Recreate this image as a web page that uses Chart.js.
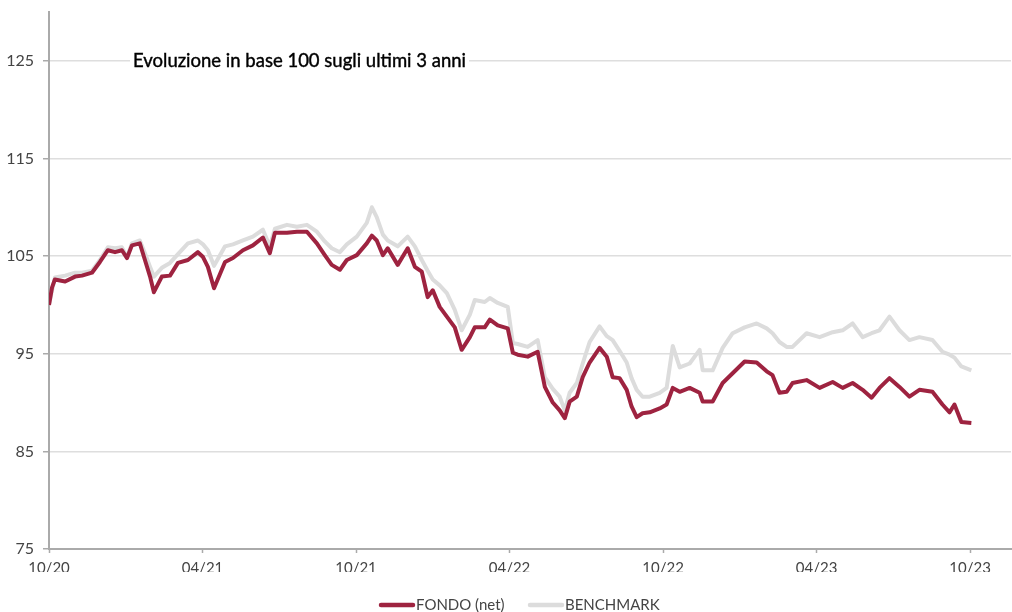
<!DOCTYPE html>
<html>
<head>
<meta charset="utf-8">
<script src="https://cdn.jsdelivr.net/npm/chart.js@4.4.0/dist/chart.umd.min.js"></script>
<style>
  html, body { margin: 0; padding: 0; background: #fff; }
  #wrap { width: 1012px; height: 612px; }
</style>
</head>
<body>
<div id="wrap"><canvas id="chart" width="1012" height="612"></canvas></div>
<script>
// months since 10/2020
var months = [0, 0.12, 0.23, 0.63, 1.02, 1.29, 1.68, 1.99, 2.30, 2.58, 2.85, 3.05, 3.24, 3.55, 3.75, 3.95, 4.10, 4.41, 4.73, 5.04,
  5.43, 5.82, 6.02, 6.21, 6.45, 6.88, 7.19, 7.58, 7.97, 8.36, 8.63, 8.83, 9.30, 9.69, 10.08, 10.47, 10.78, 11.05, 11.37, 11.64,
  12.03, 12.42, 12.62, 12.81, 13.05, 13.24, 13.63, 14.02, 14.30, 14.57, 14.80, 15.00, 15.27, 15.55, 15.86, 16.13, 16.45, 16.64, 17.03, 17.23,
  17.54, 17.93, 18.13, 18.32, 18.71, 19.10, 19.38, 19.69, 19.96, 20.16, 20.35, 20.63, 20.86, 21.13, 21.52, 21.80, 22.03, 22.30, 22.58, 22.77,
  22.97, 23.20, 23.48, 23.87, 24.14, 24.38, 24.65, 25.04, 25.43, 25.55, 25.94, 26.33, 26.72, 27.19, 27.66, 28.05, 28.28, 28.55, 28.83, 29.06,
  29.61, 30.12, 30.63, 31.02, 31.41, 31.80, 32.15, 32.46, 32.85, 33.24, 33.63, 34.02, 34.53, 34.92, 35.20, 35.39, 35.66, 36.05];

var fondo = [100.0, 101.8, 102.6, 102.4, 102.9, 103.0, 103.3, 104.4, 105.6, 105.4, 105.6, 104.8, 106.1, 106.3, 104.6, 102.9, 101.3, 102.9, 103.0, 104.3,
  104.6, 105.4, 104.9, 103.9, 101.7, 104.4, 104.8, 105.6, 106.1, 106.9, 105.3, 107.4, 107.4, 107.5, 107.5, 106.3, 105.1, 104.1, 103.6, 104.6,
  105.1, 106.3, 107.1, 106.6, 105.1, 105.8, 104.1, 105.8, 103.9, 103.4, 100.8, 101.5, 99.8, 98.8, 97.7, 95.4, 96.7, 97.7, 97.7, 98.5,
  97.9, 97.6, 95.1, 94.9, 94.7, 95.2, 91.6, 90.0, 89.2, 88.4, 90.1, 90.6, 92.6, 94.1, 95.6, 94.7, 92.6, 92.5, 91.3, 89.6,
  88.5, 88.9, 89.0, 89.4, 89.8, 91.5, 91.1, 91.5, 91.0, 90.1, 90.1, 92.0, 93.0, 94.2, 94.1, 93.2, 92.8, 91.0, 91.1, 92.0,
  92.3, 91.5, 92.1, 91.5, 92.0, 91.3, 90.5, 91.5, 92.5, 91.6, 90.6, 91.3, 91.1, 89.8, 89.0, 89.8, 88.0, 87.9];

var benchmark = [100.0, 101.5, 102.8, 103.0, 103.3, 103.3, 103.5, 104.6, 105.9, 105.8, 105.9, 104.9, 106.3, 106.6, 105.3, 103.9, 102.9, 103.8, 104.3, 105.2,
  106.3, 106.6, 106.2, 105.6, 104.0, 106.0, 106.2, 106.6, 107.0, 107.7, 106.0, 107.8, 108.2, 108.0, 108.2, 107.5, 106.5, 105.8, 105.4, 106.2,
  107.0, 108.4, 110.0, 109.0, 107.2, 106.6, 106.0, 107.0, 106.0, 104.6, 103.5, 102.6, 102.0, 101.2, 99.5, 97.4, 99.0, 100.5, 100.3, 100.7,
  100.2, 99.8, 96.1, 96.0, 95.7, 96.4, 92.6, 91.4, 90.6, 89.2, 91.0, 92.0, 94.0, 96.2, 97.8, 96.8, 96.4, 95.3, 94.1, 92.5,
  91.3, 90.6, 90.6, 91.0, 91.5, 95.8, 93.6, 94.0, 95.4, 93.3, 93.3, 95.6, 97.1, 97.7, 98.1, 97.6, 97.1, 96.2, 95.7, 95.7,
  97.1, 96.7, 97.2, 97.4, 98.1, 96.7, 97.1, 97.4, 98.8, 97.4, 96.4, 96.7, 96.4, 95.2, 94.9, 94.6, 93.7, 93.3];

var xTicks = [0, 6, 12, 18, 24, 30, 36];
var xLabels = ['10/20', '04/21', '10/21', '04/22', '10/22', '04/23', '10/23'];
var yTicks = [75, 85, 95, 105, 115, 125];

var seriesNames = ['FONDO (net)', 'BENCHMARK'];
var seriesColors = ['#9e2340', '#dcdcdc'];
var titleText = 'Evoluzione in base 100 sugli ultimi 3 anni';

function toPoints(vals)
{
  var out = [];
  for (var i = 0; i < vals.length; i++) {
    out.push({ x: months[i], y: vals[i] });
  }
  return out;
}

var titlePlugin = {
  id: 'titleBox',
  afterDatasetsDraw: function(chart) {
    var ctx = chart.ctx;
    ctx.save();
    ctx.font = '18.5px Lato';
    var w = ctx.measureText(titleText).width;
    var y = chart.scales.y.getPixelForValue(125);
    ctx.fillStyle = '#fff';
    ctx.fillRect(130, y - 11, w + 6, 22);
    ctx.fillStyle = '#000';
    ctx.strokeStyle = '#000';
    ctx.lineWidth = 0.4;
    ctx.textBaseline = 'middle';
    ctx.fillText(titleText, 133, y);
    ctx.strokeText(titleText, 133, y);
    ctx.restore();
  }
};

var legendPlugin = {
  id: 'bottomLegend',
  afterDraw: function(chart) {
    var ctx = chart.ctx;
    ctx.save();
    ctx.font = '15px Lato';
    ctx.textBaseline = 'middle';
    var y = 605;
    var starts = [381, 530];
    for (var i = 0; i < seriesNames.length; i++) {
      var x0 = starts[i];
      ctx.strokeStyle = seriesColors[i];
      ctx.lineWidth = 4.5;
      ctx.lineCap = 'round';
      ctx.beginPath();
      ctx.moveTo(x0, y);
      ctx.lineTo(x0 + 32, y);
      ctx.stroke();
      ctx.fillStyle = '#444';
      ctx.fillText(seriesNames[i], x0 + 35, y);
    }
    ctx.restore();
  }
};

new Chart(document.getElementById('chart'), {
  type: 'line',
  data: {
    datasets: [
      {
        label: seriesNames[0],
        data: toPoints(fondo),
        borderColor: seriesColors[0],
        borderWidth: 4,
        pointRadius: 0,
        tension: 0,
        borderJoinStyle: 'round'
      },
      {
        label: seriesNames[1],
        data: toPoints(benchmark),
        borderColor: seriesColors[1],
        borderWidth: 4,
        pointRadius: 0,
        tension: 0,
        borderJoinStyle: 'round'
      }
    ]
  },
  options: {
    responsive: false,
    animation: false,
    layout: { padding: { top: 12, right: 1, bottom: 40, left: 0 } },
    plugins: {
      legend: { display: false },
      tooltip: { enabled: false }
    },
    scales: {
      x: {
        type: 'linear',
        min: 0,
        max: 37.6,
        afterBuildTicks: function(scale) {
          scale.ticks = xTicks.map(function(v) { return { value: v }; });
        },
        afterFit: function(scale) { scale.height = 23; },
        ticks: {
          autoSkip: false,
          maxRotation: 0,
          padding: 6,
          color: '#444',
          font: { family: 'Lato', size: 15 },
          callback: function(v) { return xLabels[xTicks.indexOf(v)]; }
        },
        grid: { drawOnChartArea: false, tickLength: 4, tickColor: '#aaa', tickWidth: 1.5 },
        border: { color: '#aaa', width: 2 }
      },
      y: {
        min: 75,
        max: 130,
        afterBuildTicks: function(scale) {
          scale.ticks = yTicks.map(function(v) { return { value: v }; });
        },
        afterFit: function(scale) {
          scale.width = 49;
          scale.paddingTop = 0;
          scale.paddingBottom = 0;
        },
        ticks: {
          padding: 9,
          color: '#444',
          font: { family: 'Lato', size: 16 }
        },
        grid: { color: '#dedede', lineWidth: 1.5, tickLength: 6, tickColor: '#aaa', tickWidth: 1.5 },
        border: { color: '#aaa', width: 2 }
      }
    }
  },
  plugins: [titlePlugin, legendPlugin]
});
</script>
</body>
</html>
